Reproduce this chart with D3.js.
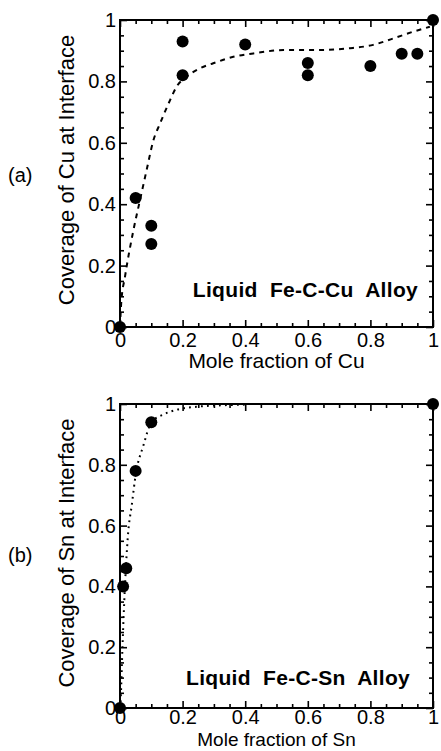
<!DOCTYPE html>
<html>
<head>
<meta charset="utf-8">
<script src="https://cdn.jsdelivr.net/npm/d3@7"></script>
<style>
  html, body { margin: 0; padding: 0; background: #fff; }
  svg { display: block; font-family: "Liberation Sans", Arial, Helvetica, sans-serif; }
  .tick text { font-size: 20px; fill: #000; }
  .tick line { stroke: #000; stroke-width: 1.6; }
</style>
</head>
<body>
<div id="chart"></div>
<script>
// ---- data ----
const tickVals  = [0, 0.2, 0.4, 0.6, 0.8, 1];
const tickLabels = ['0', '0.2', '0.4', '0.6', '0.8', '1'];

// (a) Liquid Fe-C-Cu
const cuMole     = [0, 0.05, 0.1, 0.1, 0.2, 0.2, 0.4, 0.6, 0.6, 0.8, 0.9, 0.95, 1];
const cuCoverage = [0, 0.42, 0.33, 0.27, 0.93, 0.82, 0.92, 0.86, 0.82, 0.85, 0.89, 0.89, 1];
const cuFitX = [0, 0.004, 0.016, 0.043, 0.064, 0.085, 0.107, 0.128, 0.16, 0.181, 0.213, 0.256, 0.298, 0.362, 0.426, 0.522, 0.628, 0.735, 0.809, 0.873, 0.937, 0.99];
const cuFitY = [0, 0.08, 0.164, 0.316, 0.414, 0.511, 0.609, 0.663, 0.739, 0.783, 0.815, 0.843, 0.859, 0.88, 0.891, 0.902, 0.902, 0.908, 0.919, 0.94, 0.962, 0.978];

// (b) Liquid Fe-C-Sn
const snMole     = [0, 0.01, 0.02, 0.05, 0.1, 1];
const snCoverage = [0, 0.40, 0.46, 0.78, 0.94, 1];
const snFitX = [0, 0.002, 0.008, 0.012, 0.019, 0.026, 0.037, 0.051, 0.074, 0.1, 0.138, 0.181, 0.256, 0.33, 0.4];
const snFitY = [0, 0.027, 0.203, 0.312, 0.465, 0.576, 0.663, 0.773, 0.861, 0.939, 0.965, 0.981, 0.992, 0.996, 0.998];

const W = 441, H = 751;
const svg = d3.select('#chart').append('svg')
  .attr('width', W)
  .attr('height', H);

const panels = [
  { tag: '(a)', el: 'Cu', xs: cuMole, ys: cuCoverage, fx: cuFitX, fy: cuFitY,
    top: 20, bottom: 327, dash: '5,5', note: 'Liquid\u00a0 Fe-C-Cu\u00a0 Alloy', noteX: 418, noteY: 297,
    tagY: 182, ylabY: 170, xlabY: 368, xlabSize: 21, xpad: 6 },
  { tag: '(b)', el: 'Sn', xs: snMole, ys: snCoverage, fx: snFitX, fy: snFitY,
    top: 404, bottom: 708, dash: '1.8,4.2', note: 'Liquid\u00a0 Fe-C-Sn\u00a0 Alloy', noteX: 410, noteY: 685,
    tagY: 562, ylabY: 553, xlabY: 746, xlabSize: 19, xpad: 2 }
];

const left = 120, right = 433;
const minorVals = d3.range(0, 1.0001, 0.05).filter(v => !tickVals.some(t => Math.abs(t - v) < 1e-6));

panels.forEach(p => {
  const x = d3.scaleLinear().domain([0, 1]).range([left, right]);
  const y = d3.scaleLinear().domain([0, 1]).range([p.bottom, p.top]);
  const fmt = (d) => tickLabels[tickVals.indexOf(d)];
  const g = svg.append('g');

  // axes: ticks point inward on all four sides
  const addAxis = (axis, tx, ty, vals, size, labels, pad) => {
    const a = g.append('g')
      .attr('transform', `translate(${tx},${ty})`)
      .call(axis.tickValues(vals).tickSize(-size).tickPadding(pad)
        .tickFormat(labels ? fmt : () => ''));
    a.select('.domain').remove();
    return a;
  };
  addAxis(d3.axisBottom(x), 0, p.bottom, tickVals, 7, true, p.xpad);
  addAxis(d3.axisBottom(x), 0, p.bottom, minorVals, 4, false, 0);
  addAxis(d3.axisTop(x), 0, p.top, tickVals, 7, false, 0);
  addAxis(d3.axisTop(x), 0, p.top, minorVals, 4, false, 0);
  addAxis(d3.axisLeft(y), left, 0, tickVals, 7, true, 4);
  addAxis(d3.axisLeft(y), left, 0, minorVals, 4, false, 0);
  addAxis(d3.axisRight(y), right, 0, tickVals, 7, false, 0);
  addAxis(d3.axisRight(y), right, 0, minorVals, 4, false, 0);

  // frame
  g.append('rect')
    .attr('x', left).attr('y', p.top)
    .attr('width', right - left).attr('height', p.bottom - p.top)
    .attr('fill', 'none').attr('stroke', '#000').attr('stroke-width', 2);

  // fitted curve
  const line = d3.line().x(d => x(d[0])).y(d => y(d[1])).curve(d3.curveMonotoneX);
  g.append('path')
    .datum(d3.zip(p.fx, p.fy))
    .attr('d', line)
    .attr('fill', 'none')
    .attr('stroke', '#000')
    .attr('stroke-width', 2)
    .attr('stroke-dasharray', p.dash);

  // measured points
  g.selectAll('circle.pt')
    .data(d3.zip(p.xs, p.ys))
    .join('circle')
    .attr('class', 'pt')
    .attr('cx', d => x(d[0]))
    .attr('cy', d => y(d[1]))
    .attr('r', 6)
    .attr('fill', '#000');

  // texts
  g.append('text')
    .attr('x', p.noteX).attr('y', p.noteY)
    .attr('text-anchor', 'end')
    .attr('font-size', 21).attr('font-weight', 'bold')
    .attr('letter-spacing', 0.3)
    .text(p.note);

  g.append('text')
    .attr('x', (left + right) / 2).attr('y', p.xlabY)
    .attr('text-anchor', 'middle')
    .attr('font-size', p.xlabSize)
    .text(`Mole fraction of ${p.el}`);

  g.append('text')
    .attr('transform', `translate(74,${p.ylabY}) rotate(-90)`)
    .attr('text-anchor', 'middle')
    .attr('font-size', 22)
    .text(`Coverage of ${p.el} at Interface`);

  g.append('text')
    .attr('x', 8).attr('y', p.tagY)
    .attr('font-size', 20)
    .text(p.tag);
});
</script>
</body>
</html>
